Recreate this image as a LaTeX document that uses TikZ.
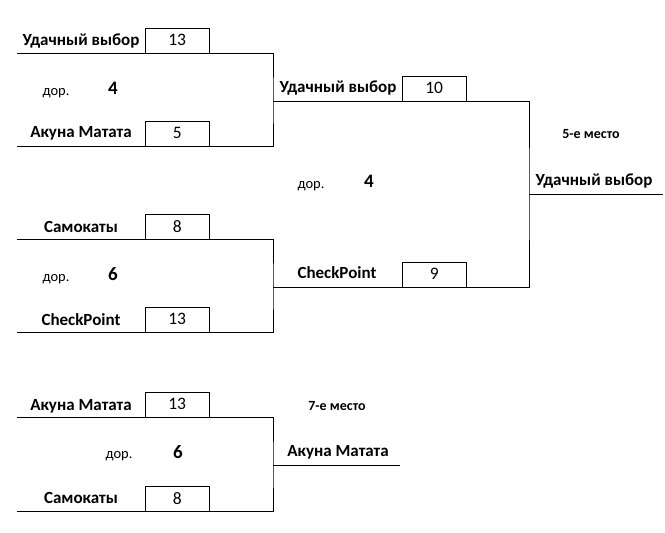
\documentclass[tikz,border=0pt]{standalone}
\usepackage{fontspec}
\setmainfont{Carlito}
\usetikzlibrary{positioning}
\tikzset{
score/.style={
  draw,
  rectangle,
  minimum width=64pt,
  minimum height=25pt, inner sep=0pt,
  font=\fontsize{17.5}{19}\selectfont
  },
team/.style={inner sep=0pt, font=\bfseries\fontsize{17}{19}\selectfont},
note/.style={inner sep=0pt, font=\fontsize{14.5}{16}\selectfont},
place/.style={inner sep=0pt, font=\bfseries\fontsize{14}{16}\selectfont},
gap/.style={inner sep=0pt, font=\bfseries\fontsize{19}{21}\selectfont},
line/.style={line width=1pt}
}
\begin{document}
\begin{tikzpicture}[x=1pt,y=-1pt]
\useasboundingbox (0,0) rectangle (665,533);
% first semifinal
\coordinate (a1) at (17,53);
\coordinate (a2) at (17,146);
\node[score, anchor=south west] (s1) at (145,53) {13};
\node[score, anchor=south west] (s2) at (145,146) {5};
\node[team] (t1) at (81,41) {Удачный выбор};
\node[team] (t2) at (81,133) {Акуна Матата};
\node[note] (d1) at (56,93) {дор.};
\node[gap] (g1) at (113,88) {4};
\coordinate (j1) at (273,101);
\draw[line] (a1) -| (j1) |- (a2);
% second semifinal
\coordinate (b1) at (17,239);
\coordinate (b2) at (17,332);
\node[score, anchor=south west] (s3) at (145,239) {8};
\node[score, anchor=south west] (s4) at (145,332) {13};
\node[team] (t3) at (81,227) {Самокаты};
\node[team] (t4) at (81,320) {CheckPoint};
\node[note] (d2) at (56,279) {дор.};
\node[gap] (g2) at (113,274) {6};
\coordinate (j2) at (273,287);
\draw[line] (b1) -| (j2) |- (b2);
% match for 5th place
\node[score, anchor=south west] (s5) at (402,101) {10};
\node[score, anchor=south west] (s6) at (402,287) {9};
\node[team] (t5) at (338,88) {Удачный выбор};
\node[team] (t6) at (337,273) {CheckPoint};
\node[note] (d3) at (311,186) {дор.};
\node[gap] (g3) at (369,181) {4};
\coordinate (j3) at (529,194);
\coordinate (e3) at (663,194);
\draw[line] (j1) -| (j3) |- (j2);
\draw[line] (j3) -- (e3);
\node[place] (p5) at (591,134) {5-е место};
\node[team] (w5) at (594,181) {Удачный выбор};
% match for 7th place
\coordinate (c1) at (17,417);
\coordinate (c2) at (17,511);
\node[score, anchor=south west] (s7) at (145,417) {13};
\node[score, anchor=south west] (s8) at (145,511) {8};
\node[team] (t7) at (81,406) {Акуна Матата};
\node[team] (t8) at (81,498) {Самокаты};
\node[note] (d4) at (119,456) {дор.};
\node[gap] (g4) at (178,452) {6};
\coordinate (j4) at (273,465);
\coordinate (e4) at (400,465);
\draw[line] (c1) -| (j4) |- (c2);
\draw[line] (j4) -- (e4);
\node[place] (p7) at (337,406) {7-е место};
\node[team] (w7) at (338,452) {Акуна Матата};
\end{tikzpicture}
\end{document}
